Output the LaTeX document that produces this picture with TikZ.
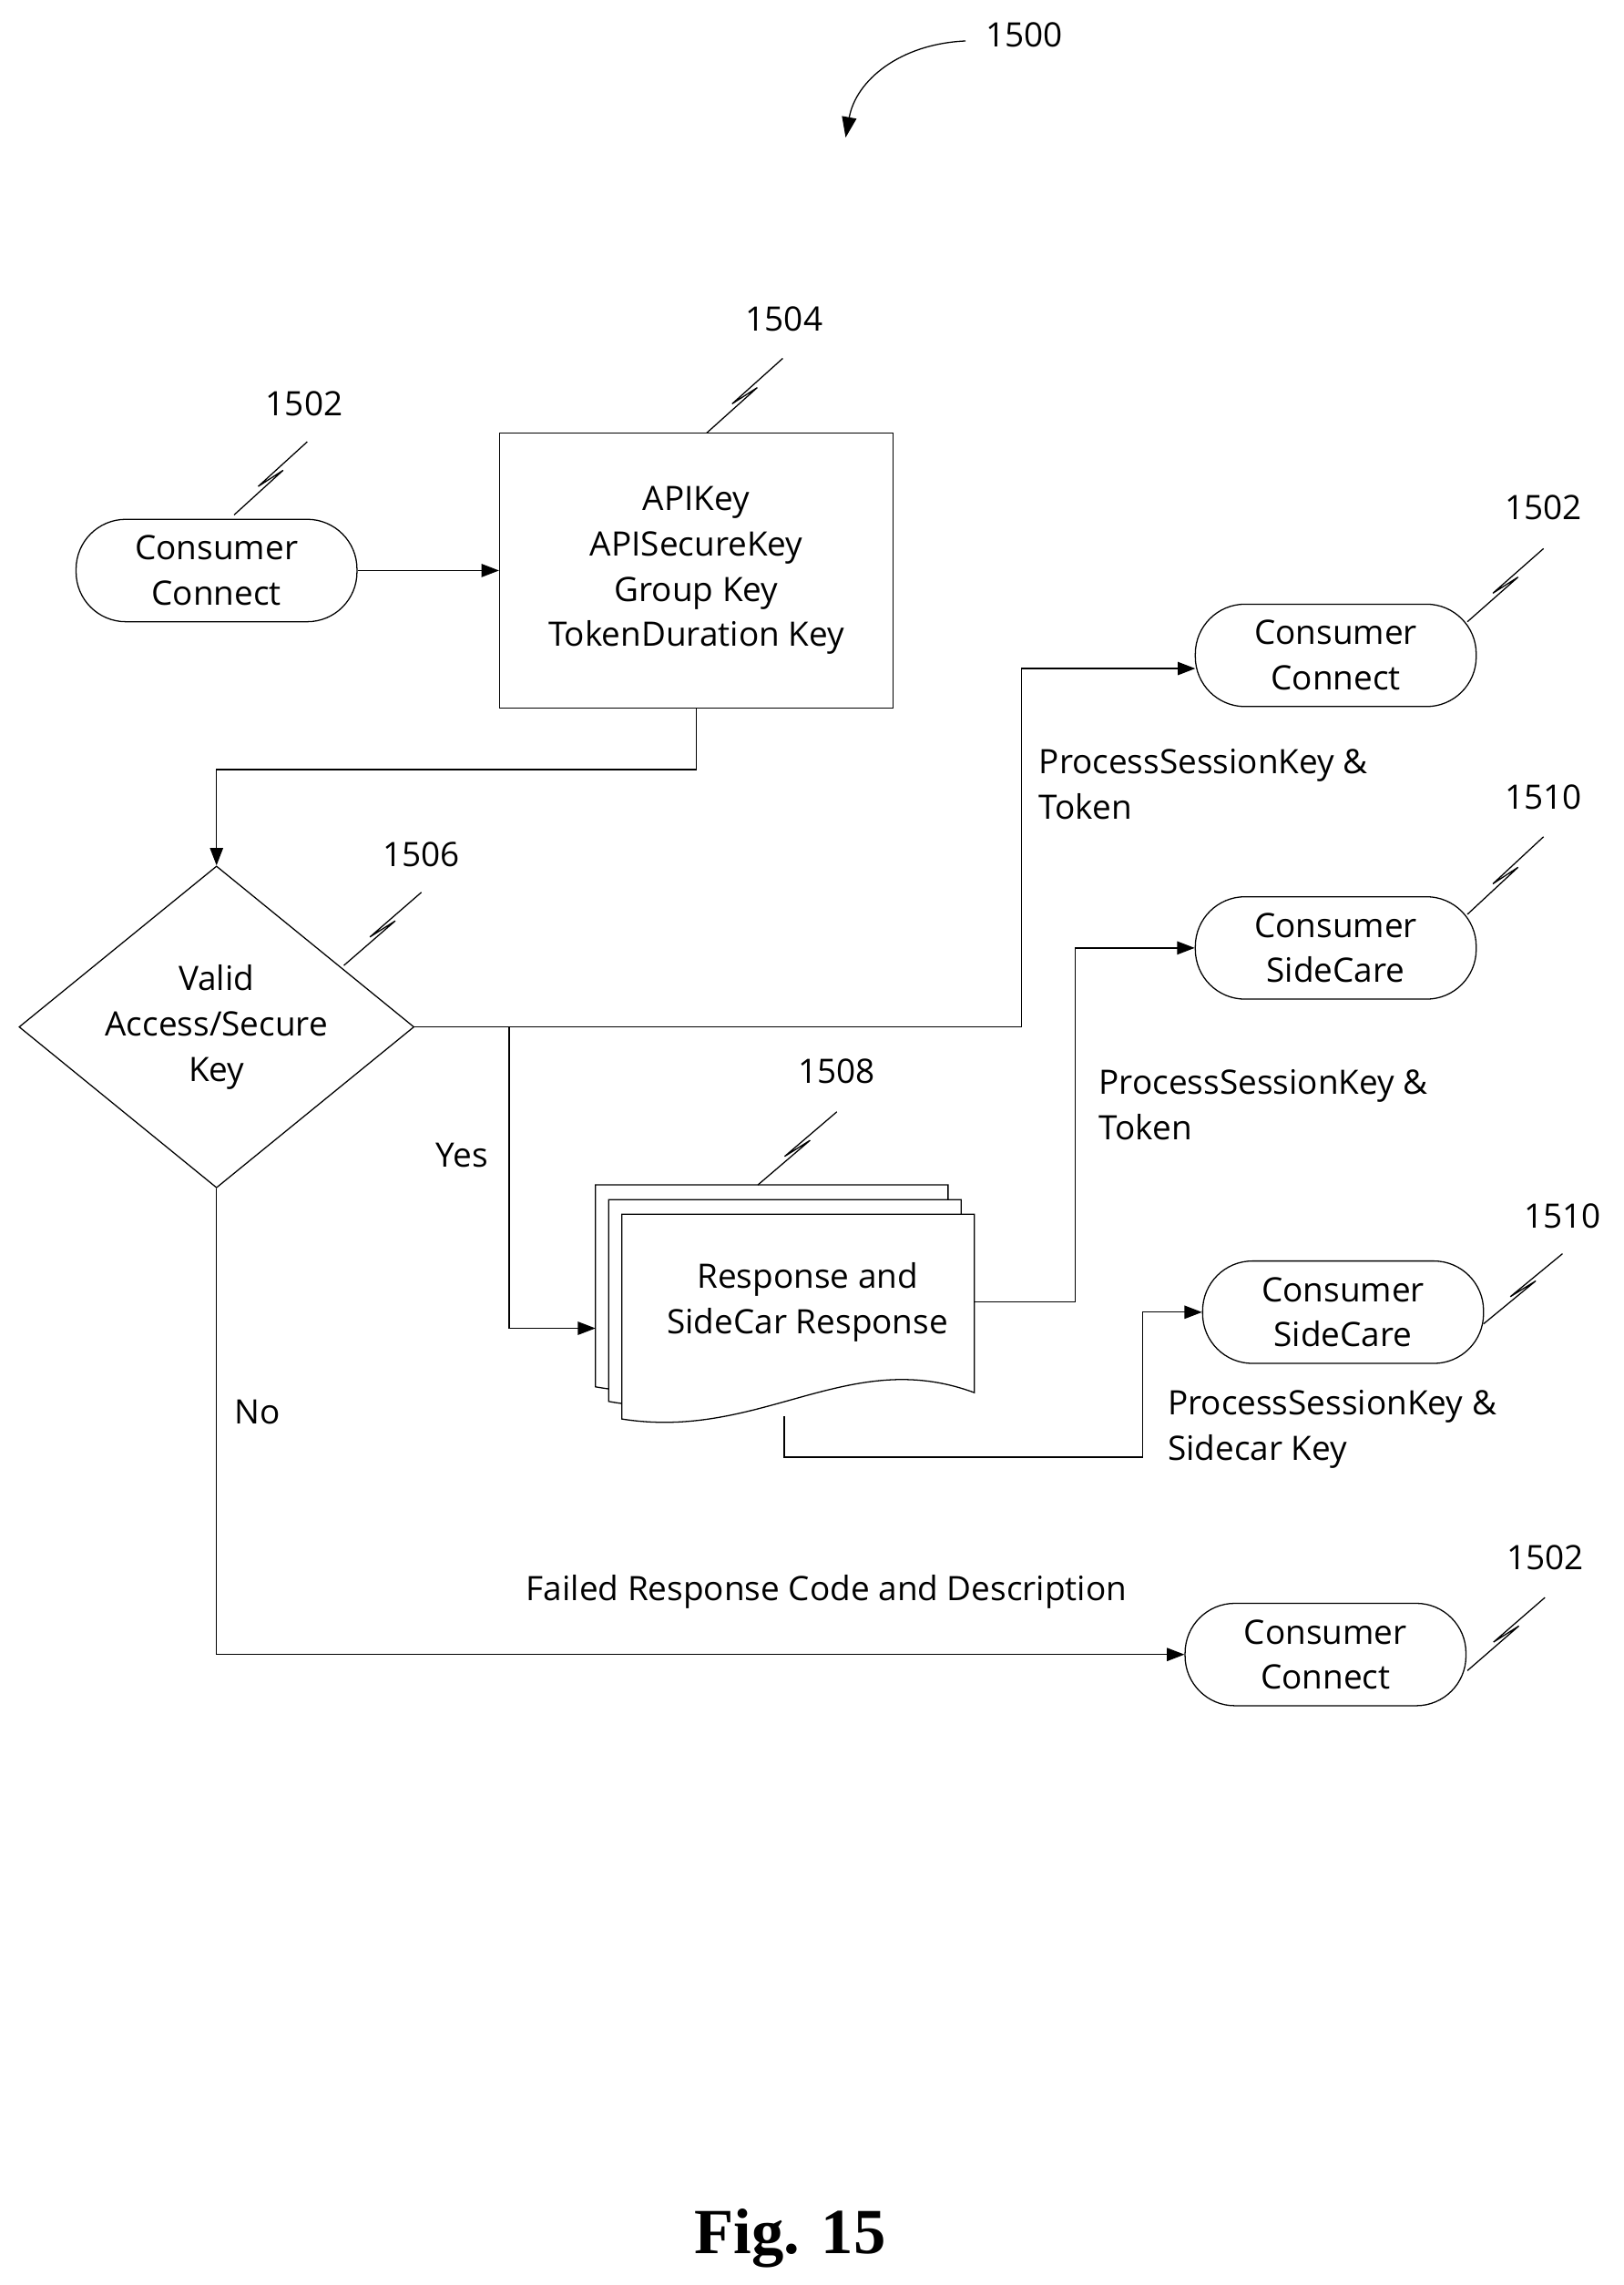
\documentclass[tikz,border=0pt]{standalone}
\usepackage{fontspec}
\setmainfont{Open Sans}
\newfontfamily\figfont{Liberation Serif}
\usetikzlibrary{shapes.geometric, arrows.meta}

\tikzset{
  term/.style={draw, thick, rounded corners=34pt, minimum width=192pt, minimum height=70pt, align=center},
  flow/.style={thick, -{Triangle[length=12pt,width=9pt]}},
  num/.style={inner sep=0pt},
  lbl/.style={align=left, anchor=north west, inner sep=0pt}
}
\newcommand{\squig}[2]{\draw[thick] (#1) -- ($(#1)!0.55!(#2)+(6,-3)$) -- ($(#1)!0.45!(#2)+(-6,3)$) -- (#2);}
\usetikzlibrary{calc}

\begin{document}
\begin{tikzpicture}[x=1pt, y=-1pt, font=\fontsize{23}{31}\selectfont]
            \useasboundingbox (0,0) rectangle (1110,1562);
            % title
            \node[num] (t) at (700,24) {1500};
            \draw[thick, -{Triangle[length=14pt,width=10pt]}] (660,28) .. controls (615,30) and (585,55) .. (578,94);
            % first terminal and key box
            \node[term] (cc1) at (148,390) {Consumer\\Connect};
            \node[num] (n1502a) at (208,276) {1502};
            \squig{160,352}{210,302}
            \node[draw, thick, minimum width=269pt, minimum height=188pt, align=center] (keys) at (476,390) {APIKey\\APISecureKey\\Group Key\\TokenDuration Key};
            \node[num] (n1504) at (536,218) {1504};
            \squig{483,296}{535,245}
            \draw[flow] (cc1) -- (keys);
            % decision
            \node[diamond, draw, thick, minimum width=270pt, minimum height=220pt, inner sep=0pt, align=center, aspect=1.23] (valid) at (148,702) {Valid\\Access/Secure\\Key};
            \node[num] (n1506) at (288,584) {1506};
            \squig{235,660}{288,610}
            \draw[flow] (keys.south) -- (476,526) -- (148,526) -- (valid.north);
            % outputs
            \node[term] (cc2) at (913,448) {Consumer\\Connect};
            \node[num] (n1502b) at (1055,347) {1502};
            \squig{1003,425}{1055,375}
            \draw[flow] (valid.east) -- (698,702) -- (698,457) -- (817,457);
            \node[lbl] (l1) at (710,512) {ProcessSessionKey \&\\Token};
            % document stack
            \draw[thick, fill=white] (407,810) -- (648,810) -- (648,930) .. controls (560,900) and (500,965) .. (407,948) -- cycle;
            \draw[thick, fill=white] (416,820) -- (657,820) -- (657,940) .. controls (570,910) and (510,975) .. (416,958) -- cycle;
            \draw[thick, fill=white] (425,830) -- (666,830) -- (666,952) .. controls (580,920) and (520,985) .. (425,970) -- cycle;
            \node[align=center] (resp) at (552,890) {Response and\\SideCar Response};
            \node[num] (n1508) at (572,732) {1508};
            \squig{518,810}{572,760}
            \draw[flow] (348,702) -- (348,908) -- (407,908);
            \node[num] (yes) at (316,790) {Yes};
            \node[term] (sc1) at (913,648) {Consumer\\SideCare};
            \node[num] (n1510a) at (1055,545) {1510};
            \squig{1003,625}{1055,572}
            \draw[flow] (666,890) -- (735,890) -- (735,648) -- (sc1.west);
            \node[lbl] (l2) at (751,731) {ProcessSessionKey \&\\Token};
            \node[term] (sc2) at (918,897) {Consumer\\SideCare};
            \node[num] (n1510b) at (1068,831) {1510};
            \squig{1014,905}{1068,857}
            \draw[flow] (536,968) -- (536,996) -- (781,996) -- (781,897) -- (sc2.west);
            \node[lbl] (l3) at (798,950) {ProcessSessionKey \&\\Sidecar Key};
            % failure path
            \node[term] (cc3) at (906,1131) {Consumer\\Connect};
            \node[num] (n1502c) at (1056,1065) {1502};
            \squig{1003,1142}{1056,1092}
            \draw[flow] (valid.south) -- (148,1131) -- (cc3.west);
            \node[num] (no) at (176,965) {No};
            \node[num] (fail) at (565,1088) {Failed Response Code and Description};
            \node[num, font=\figfont\bfseries\fontsize{44}{50}\selectfont] (fig) at (540,1530) {Fig. 15};
        \end{tikzpicture}
\end{document}
